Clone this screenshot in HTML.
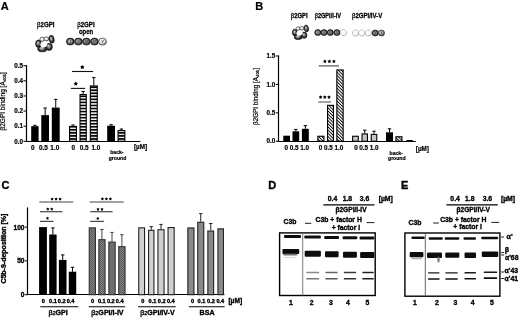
<!DOCTYPE html>
<html><head><meta charset="utf-8"><style>
html,body{margin:0;padding:0;background:#fff;width:520px;height:318px;overflow:hidden;}
svg{display:block;filter:blur(0.3px);font-family:"Liberation Sans",sans-serif;}
text{stroke:#000;stroke-width:0.35px;}
.lt text,text.lt{stroke-width:0.2px;}
</style></head><body>
<svg width="520" height="318" viewBox="0 0 520 318" font-family='"Liberation Sans", sans-serif'>
<defs>
<pattern id="hstripe" patternUnits="userSpaceOnUse" x="0" y="-1.33" width="4" height="3.05">
 <rect width="4" height="3.05" fill="#000"/><rect y="0.9" width="4" height="1.35" fill="#fff"/>
</pattern>
<pattern id="dhatch" patternUnits="userSpaceOnUse" width="2.25" height="3" patternTransform="rotate(-45)">
 <rect width="2.25" height="3" fill="#fff"/><rect width="0.9" height="3" fill="#000"/>
</pattern>
<pattern id="checker" patternUnits="userSpaceOnUse" width="2" height="2">
 <rect width="2" height="2" fill="#808080"/><rect width="1" height="1" fill="#5e5e5e"/><rect x="1" y="1" width="1" height="1" fill="#5e5e5e"/>
</pattern>
<radialGradient id="gdark" cx="0.5" cy="0.5" r="0.5" fx="0.42" fy="0.4">
 <stop offset="0" stop-color="#d0d0d0"/><stop offset="0.5" stop-color="#8a8a8a"/><stop offset="0.8" stop-color="#3a3a3a"/><stop offset="1" stop-color="#080808"/>
</radialGradient>
<radialGradient id="gring" cx="0.5" cy="0.5" r="0.5" fx="0.4" fy="0.35">
 <stop offset="0" stop-color="#d8d8d8"/><stop offset="0.4" stop-color="#858585"/><stop offset="0.75" stop-color="#303030"/><stop offset="1" stop-color="#050505"/>
</radialGradient>
<radialGradient id="glight" cx="0.4" cy="0.35" r="0.7">
 <stop offset="0" stop-color="#fff"/><stop offset="0.6" stop-color="#ddd"/><stop offset="1" stop-color="#666"/>
</radialGradient>
<radialGradient id="gwhite" cx="0.45" cy="0.4" r="0.65">
 <stop offset="0" stop-color="#fff"/><stop offset="0.75" stop-color="#fafafa"/><stop offset="1" stop-color="#999"/>
</radialGradient>
<radialGradient id="gmid" cx="0.4" cy="0.35" r="0.7">
 <stop offset="0" stop-color="#eee"/><stop offset="0.5" stop-color="#999"/><stop offset="1" stop-color="#333"/>
</radialGradient>
<filter id="blur" x="-20%" y="-50%" width="140%" height="200%"><feGaussianBlur stdDeviation="0.45"/></filter>
<filter id="blur2" x="-20%" y="-50%" width="140%" height="200%"><feGaussianBlur stdDeviation="0.7"/></filter>
</defs>
<g class="lt">
<text x="0.80" y="10.20" font-size="11" text-anchor="start" font-weight="bold" fill="#000" >A</text>
<text transform="translate(45.70,26.80) scale(0.88,1)" font-size="7.0" text-anchor="middle" font-weight="bold" fill="#000" style="stroke-width:0.28px"><tspan font-weight="normal">β</tspan>2GPI</text>
<text transform="translate(85.90,26.80) scale(0.88,1)" font-size="7.0" text-anchor="middle" font-weight="bold" fill="#000" style="stroke-width:0.28px"><tspan font-weight="normal">β</tspan>2GPI</text>
<text transform="translate(86.00,33.80) scale(0.85,1)" font-size="7.0" text-anchor="middle" font-weight="bold" fill="#000" style="stroke-width:0.28px">open</text>
<g transform="translate(44.6,43.8) scale(1.06)"><ellipse cx="6.6" cy="-4.3" rx="2.4" ry="3.7" fill="url(#gring)" stroke="#111" stroke-width="0.55" transform="rotate(-12 6.6 -4.3)"/><ellipse cx="-2.3" cy="-4.2" rx="2.2" ry="2.0" fill="url(#glight)" stroke="#222" stroke-width="0.6"/><ellipse cx="1.7" cy="-4.6" rx="2.2" ry="2.0" fill="url(#glight)" stroke="#222" stroke-width="0.6"/><ellipse cx="-2.2" cy="4.8" rx="4.3" ry="2.8" fill="url(#gring)" stroke="#111" stroke-width="0.55"/><ellipse cx="4.3" cy="2.9" rx="3.0" ry="3.4" fill="url(#gring)" stroke="#111" stroke-width="0.55"/><ellipse cx="-5.9" cy="-0.1" rx="2.6" ry="3.5" fill="url(#gring)" stroke="#111" stroke-width="0.55"/><ellipse cx="-0.7" cy="0.6" rx="3.4" ry="2.7" fill="#fff" transform="rotate(-20 -0.7 0.6)"/></g>
<ellipse cx="70.30" cy="41.60" rx="3.9" ry="3.5" fill="url(#gdark)" stroke="#111" stroke-width="0.6"/>
<text x="70.30" y="42.75" font-size="3.2" text-anchor="middle" font-weight="bold" fill="#222" style="stroke:none">I</text>
<ellipse cx="78.40" cy="41.60" rx="3.9" ry="3.5" fill="url(#gdark)" stroke="#111" stroke-width="0.6"/>
<text x="78.40" y="42.75" font-size="3.2" text-anchor="middle" font-weight="bold" fill="#222" style="stroke:none">II</text>
<ellipse cx="86.40" cy="41.60" rx="3.9" ry="3.5" fill="url(#gdark)" stroke="#111" stroke-width="0.6"/>
<text x="86.40" y="42.75" font-size="3.2" text-anchor="middle" font-weight="bold" fill="#222" style="stroke:none">III</text>
<ellipse cx="94.50" cy="41.60" rx="3.9" ry="3.5" fill="url(#gdark)" stroke="#111" stroke-width="0.6"/>
<text x="94.50" y="42.75" font-size="3.2" text-anchor="middle" font-weight="bold" fill="#222" style="stroke:none">IV</text>
<ellipse cx="102.50" cy="41.60" rx="3.9" ry="3.5" fill="url(#glight)" stroke="#111" stroke-width="0.6"/>
<text x="102.50" y="42.75" font-size="3.2" text-anchor="middle" font-weight="bold" fill="#222" style="stroke:none">V</text>
<line x1="26.50" y1="65.20" x2="26.50" y2="142.00" stroke="#000" stroke-width="1.2" />
<line x1="25.90" y1="141.50" x2="140.40" y2="141.50" stroke="#000" stroke-width="1.2" />
<line x1="23.40" y1="65.70" x2="26.50" y2="65.70" stroke="#000" stroke-width="1.0" />
<text x="22.90" y="67.95" font-size="6.3" text-anchor="end" font-weight="bold" fill="#000" >0.5</text>
<line x1="23.40" y1="80.82" x2="26.50" y2="80.82" stroke="#000" stroke-width="1.0" />
<text x="22.90" y="83.07" font-size="6.3" text-anchor="end" font-weight="bold" fill="#000" >0.4</text>
<line x1="23.40" y1="95.94" x2="26.50" y2="95.94" stroke="#000" stroke-width="1.0" />
<text x="22.90" y="98.19" font-size="6.3" text-anchor="end" font-weight="bold" fill="#000" >0.3</text>
<line x1="23.40" y1="111.06" x2="26.50" y2="111.06" stroke="#000" stroke-width="1.0" />
<text x="22.90" y="113.31" font-size="6.3" text-anchor="end" font-weight="bold" fill="#000" >0.2</text>
<line x1="23.40" y1="126.18" x2="26.50" y2="126.18" stroke="#000" stroke-width="1.0" />
<text x="22.90" y="128.43" font-size="6.3" text-anchor="end" font-weight="bold" fill="#000" >0.1</text>
<line x1="23.40" y1="141.30" x2="26.50" y2="141.30" stroke="#000" stroke-width="1.0" />
<text x="22.90" y="143.55" font-size="6.3" text-anchor="end" font-weight="bold" fill="#000" >0.0</text>
<line x1="34.90" y1="126.18" x2="34.90" y2="125.28" stroke="#000" stroke-width="1.0" />
<line x1="33.20" y1="125.28" x2="36.60" y2="125.28" stroke="#000" stroke-width="1.0" />
<rect x="31.20" y="126.18" width="7.40" height="15.12" fill="#000" stroke="none" stroke-width="0" />
<line x1="45.15" y1="115.10" x2="45.15" y2="108.00" stroke="#000" stroke-width="1.0" />
<line x1="43.45" y1="108.00" x2="46.85" y2="108.00" stroke="#000" stroke-width="1.0" />
<rect x="41.30" y="115.10" width="7.70" height="26.20" fill="#000" stroke="none" stroke-width="0" />
<line x1="55.75" y1="107.60" x2="55.75" y2="99.40" stroke="#000" stroke-width="1.0" />
<line x1="54.05" y1="99.40" x2="57.45" y2="99.40" stroke="#000" stroke-width="1.0" />
<rect x="51.80" y="107.60" width="7.90" height="33.70" fill="#000" stroke="none" stroke-width="0" />
<line x1="73.00" y1="125.90" x2="73.00" y2="125.00" stroke="#000" stroke-width="1.0" />
<line x1="71.30" y1="125.00" x2="74.70" y2="125.00" stroke="#000" stroke-width="1.0" />
<rect x="69.55" y="126.45" width="6.90" height="14.85" fill="url(#hstripe)" stroke="#000" stroke-width="1.1" />
<line x1="83.15" y1="94.00" x2="83.15" y2="91.40" stroke="#000" stroke-width="1.0" />
<line x1="81.45" y1="91.40" x2="84.85" y2="91.40" stroke="#000" stroke-width="1.0" />
<rect x="80.05" y="94.55" width="6.20" height="46.75" fill="url(#hstripe)" stroke="#000" stroke-width="1.1" />
<line x1="93.80" y1="85.40" x2="93.80" y2="77.60" stroke="#000" stroke-width="1.0" />
<line x1="92.10" y1="77.60" x2="95.50" y2="77.60" stroke="#000" stroke-width="1.0" />
<rect x="90.35" y="85.95" width="6.90" height="55.35" fill="url(#hstripe)" stroke="#000" stroke-width="1.1" />
<line x1="111.10" y1="125.70" x2="111.10" y2="124.70" stroke="#000" stroke-width="1.0" />
<line x1="109.40" y1="124.70" x2="112.80" y2="124.70" stroke="#000" stroke-width="1.0" />
<rect x="107.20" y="125.70" width="7.80" height="15.60" fill="#000" stroke="none" stroke-width="0" />
<line x1="121.45" y1="130.00" x2="121.45" y2="129.00" stroke="#000" stroke-width="1.0" />
<line x1="119.75" y1="129.00" x2="123.15" y2="129.00" stroke="#000" stroke-width="1.0" />
<rect x="118.05" y="130.55" width="6.80" height="10.75" fill="url(#hstripe)" stroke="#000" stroke-width="1.1" />
<line x1="71.90" y1="71.50" x2="93.10" y2="71.50" stroke="#111" stroke-width="1.1" />
<polygon points="82.30,64.90 83.08,66.03 84.39,66.42 83.56,67.51 83.59,68.88 82.30,68.42 81.01,68.88 81.04,67.51 80.21,66.42 81.52,66.03" fill="#000"/>
<line x1="70.90" y1="88.40" x2="85.10" y2="88.40" stroke="#111" stroke-width="1.1" />
<polygon points="75.80,81.50 76.58,82.63 77.89,83.02 77.06,84.11 77.09,85.48 75.80,85.02 74.51,85.48 74.54,84.11 73.71,83.02 75.02,82.63" fill="#000"/>
<text x="32.80" y="149.70" font-size="6.4" text-anchor="middle" font-weight="bold" fill="#000" >0</text>
<text x="43.35" y="149.70" font-size="6.4" text-anchor="middle" font-weight="bold" fill="#000" >0.5</text>
<text x="54.80" y="149.70" font-size="6.4" text-anchor="middle" font-weight="bold" fill="#000" >1.0</text>
<text x="73.35" y="149.70" font-size="6.4" text-anchor="middle" font-weight="bold" fill="#000" >0</text>
<text x="84.15" y="149.70" font-size="6.4" text-anchor="middle" font-weight="bold" fill="#000" >0.5</text>
<text x="95.90" y="149.70" font-size="6.4" text-anchor="middle" font-weight="bold" fill="#000" >1.0</text>
<text x="134.00" y="148.90" font-size="6.3" text-anchor="start" font-weight="bold" fill="#000" >[µM]</text>
<text x="116.90" y="154.30" font-size="5.1" text-anchor="middle" font-weight="bold" fill="#000" >back-</text>
<text x="117.50" y="159.50" font-size="5.1" text-anchor="middle" font-weight="bold" fill="#000" >ground</text>
<text transform="translate(5.2,101.4) rotate(-90)" font-size="6.5" font-weight="normal" text-anchor="middle">β2GPI binding [A<tspan font-size="4.3" dy="1">405</tspan><tspan dy="-1">]</tspan></text>
<text x="255.30" y="10.40" font-size="11" text-anchor="start" font-weight="bold" fill="#000" >B</text>
<text transform="translate(299.20,17.70) scale(0.88,1)" font-size="6.7" text-anchor="middle" font-weight="bold" fill="#000" style="stroke-width:0.28px"><tspan font-weight="normal">β</tspan>2GPI</text>
<text transform="translate(327.80,17.70) scale(0.84,1)" font-size="6.7" text-anchor="middle" font-weight="bold" fill="#000" style="stroke-width:0.28px"><tspan font-weight="normal">β</tspan>2GPI/I-IV</text>
<text transform="translate(367.10,17.70) scale(0.9,1)" font-size="6.7" text-anchor="middle" font-weight="bold" fill="#000" style="stroke-width:0.28px"><tspan font-weight="normal">β</tspan>2GPI/IV-V</text>
<g transform="translate(300.2,32.5) scale(0.93)"><ellipse cx="6.6" cy="-4.3" rx="2.4" ry="3.7" fill="url(#gring)" stroke="#111" stroke-width="0.55" transform="rotate(-12 6.6 -4.3)"/><ellipse cx="-2.3" cy="-4.2" rx="2.2" ry="2.0" fill="url(#glight)" stroke="#222" stroke-width="0.6"/><ellipse cx="1.7" cy="-4.6" rx="2.2" ry="2.0" fill="url(#glight)" stroke="#222" stroke-width="0.6"/><ellipse cx="-2.2" cy="4.8" rx="4.3" ry="2.8" fill="url(#gring)" stroke="#111" stroke-width="0.55"/><ellipse cx="4.3" cy="2.9" rx="3.0" ry="3.4" fill="url(#gring)" stroke="#111" stroke-width="0.55"/><ellipse cx="-5.9" cy="-0.1" rx="2.6" ry="3.5" fill="url(#gring)" stroke="#111" stroke-width="0.55"/><ellipse cx="-0.7" cy="0.6" rx="3.4" ry="2.7" fill="#fff" transform="rotate(-20 -0.7 0.6)"/></g>
<ellipse cx="317.80" cy="32.60" rx="3.1" ry="3.0" fill="url(#gdark)" stroke="#111" stroke-width="0.6"/>
<text x="317.80" y="33.54" font-size="2.6" text-anchor="middle" font-weight="bold" fill="#222" style="stroke:none">I</text>
<ellipse cx="324.00" cy="32.60" rx="3.1" ry="3.0" fill="url(#gdark)" stroke="#111" stroke-width="0.6"/>
<text x="324.00" y="33.54" font-size="2.6" text-anchor="middle" font-weight="bold" fill="#222" style="stroke:none">II</text>
<ellipse cx="330.30" cy="32.60" rx="3.1" ry="3.0" fill="url(#gdark)" stroke="#111" stroke-width="0.6"/>
<text x="330.30" y="33.54" font-size="2.6" text-anchor="middle" font-weight="bold" fill="#222" style="stroke:none">III</text>
<ellipse cx="336.90" cy="32.60" rx="3.1" ry="3.0" fill="url(#gdark)" stroke="#111" stroke-width="0.6"/>
<text x="336.90" y="33.54" font-size="2.6" text-anchor="middle" font-weight="bold" fill="#222" style="stroke:none">IV</text>
<ellipse cx="343.40" cy="32.60" rx="3.1" ry="3.0" fill="url(#gwhite)" stroke="#777" stroke-width="0.6" stroke-dasharray="0.9 0.45"/>
<text x="343.40" y="33.54" font-size="2.6" text-anchor="middle" font-weight="bold" fill="#222" style="stroke:none"></text>
<ellipse cx="355.60" cy="33.00" rx="3.1" ry="3.0" fill="url(#gwhite)" stroke="#777" stroke-width="0.6" stroke-dasharray="0.9 0.45"/>
<text x="355.60" y="33.94" font-size="2.6" text-anchor="middle" font-weight="bold" fill="#222" style="stroke:none"></text>
<ellipse cx="361.70" cy="33.00" rx="3.1" ry="3.0" fill="url(#gwhite)" stroke="#777" stroke-width="0.6" stroke-dasharray="0.9 0.45"/>
<text x="361.70" y="33.94" font-size="2.6" text-anchor="middle" font-weight="bold" fill="#222" style="stroke:none"></text>
<ellipse cx="368.30" cy="33.00" rx="3.1" ry="3.0" fill="url(#gwhite)" stroke="#777" stroke-width="0.6" stroke-dasharray="0.9 0.45"/>
<text x="368.30" y="33.94" font-size="2.6" text-anchor="middle" font-weight="bold" fill="#222" style="stroke:none"></text>
<ellipse cx="375.20" cy="33.00" rx="3.1" ry="3.0" fill="url(#gdark)" stroke="#111" stroke-width="0.6"/>
<text x="375.20" y="33.94" font-size="2.6" text-anchor="middle" font-weight="bold" fill="#222" style="stroke:none">IV</text>
<ellipse cx="381.40" cy="33.00" rx="3.1" ry="3.0" fill="url(#gmid)" stroke="#111" stroke-width="0.6"/>
<text x="381.40" y="33.94" font-size="2.6" text-anchor="middle" font-weight="bold" fill="#222" style="stroke:none">V</text>
<line x1="278.50" y1="55.40" x2="278.50" y2="142.00" stroke="#000" stroke-width="1.2" />
<line x1="277.90" y1="141.50" x2="415.80" y2="141.50" stroke="#000" stroke-width="1.2" />
<line x1="275.80" y1="56.00" x2="278.50" y2="56.00" stroke="#000" stroke-width="1.0" />
<text x="275.30" y="58.25" font-size="6.3" text-anchor="end" font-weight="bold" fill="#000" >1.5</text>
<line x1="275.80" y1="84.40" x2="278.50" y2="84.40" stroke="#000" stroke-width="1.0" />
<text x="275.30" y="86.65" font-size="6.3" text-anchor="end" font-weight="bold" fill="#000" >1.0</text>
<line x1="275.80" y1="112.80" x2="278.50" y2="112.80" stroke="#000" stroke-width="1.0" />
<text x="275.30" y="115.05" font-size="6.3" text-anchor="end" font-weight="bold" fill="#000" >0.5</text>
<line x1="275.80" y1="141.20" x2="278.50" y2="141.20" stroke="#000" stroke-width="1.0" />
<text x="275.30" y="143.45" font-size="6.3" text-anchor="end" font-weight="bold" fill="#000" >0.0</text>
<rect x="283.30" y="135.70" width="6.70" height="5.50" fill="#000" stroke="none" stroke-width="0" />
<line x1="295.85" y1="131.30" x2="295.85" y2="129.40" stroke="#000" stroke-width="1.0" />
<line x1="294.15" y1="129.40" x2="297.55" y2="129.40" stroke="#000" stroke-width="1.0" />
<rect x="292.50" y="131.30" width="6.70" height="9.90" fill="#000" stroke="none" stroke-width="0" />
<line x1="305.35" y1="128.80" x2="305.35" y2="125.60" stroke="#000" stroke-width="1.0" />
<line x1="303.65" y1="125.60" x2="307.05" y2="125.60" stroke="#000" stroke-width="1.0" />
<rect x="301.90" y="128.80" width="6.90" height="12.40" fill="#000" stroke="none" stroke-width="0" />
<rect x="317.85" y="136.25" width="6.10" height="4.95" fill="url(#dhatch)" stroke="#000" stroke-width="1.1" />
<rect x="327.55" y="105.35" width="5.90" height="35.85" fill="url(#dhatch)" stroke="#000" stroke-width="1.1" />
<rect x="336.85" y="69.95" width="6.30" height="71.25" fill="url(#dhatch)" stroke="#000" stroke-width="1.1" />
<rect x="352.65" y="136.25" width="5.60" height="4.95" fill="#c8c8c8" stroke="#000" stroke-width="1.1" />
<line x1="364.75" y1="133.40" x2="364.75" y2="130.20" stroke="#000" stroke-width="1.0" />
<line x1="363.05" y1="130.20" x2="366.45" y2="130.20" stroke="#000" stroke-width="1.0" />
<rect x="362.05" y="133.95" width="5.40" height="7.25" fill="#c8c8c8" stroke="#000" stroke-width="1.1" />
<line x1="374.00" y1="133.90" x2="374.00" y2="131.20" stroke="#000" stroke-width="1.0" />
<line x1="372.30" y1="131.20" x2="375.70" y2="131.20" stroke="#000" stroke-width="1.0" />
<rect x="371.25" y="134.45" width="5.50" height="6.75" fill="#c8c8c8" stroke="#000" stroke-width="1.1" />
<line x1="389.50" y1="132.30" x2="389.50" y2="128.80" stroke="#000" stroke-width="1.0" />
<line x1="387.80" y1="128.80" x2="391.20" y2="128.80" stroke="#000" stroke-width="1.0" />
<rect x="386.00" y="132.30" width="7.00" height="8.90" fill="#000" stroke="none" stroke-width="0" />
<rect x="395.95" y="136.75" width="6.00" height="4.45" fill="url(#dhatch)" stroke="#000" stroke-width="1.1" />
<rect x="406.95" y="140.55" width="5.20" height="0.65" fill="#c8c8c8" stroke="#000" stroke-width="1.1" />
<line x1="318.60" y1="65.90" x2="339.00" y2="65.90" stroke="#444" stroke-width="1.1" />
<polygon points="324.90,59.50 325.57,60.48 326.71,60.81 325.98,61.75 326.02,62.94 324.90,62.54 323.78,62.94 323.82,61.75 323.09,60.81 324.23,60.48" fill="#000"/>
<polygon points="329.40,59.50 330.07,60.48 331.21,60.81 330.48,61.75 330.52,62.94 329.40,62.54 328.28,62.94 328.32,61.75 327.59,60.81 328.73,60.48" fill="#000"/>
<polygon points="333.90,59.50 334.57,60.48 335.71,60.81 334.98,61.75 335.02,62.94 333.90,62.54 332.78,62.94 332.82,61.75 332.09,60.81 333.23,60.48" fill="#000"/>
<line x1="318.20" y1="102.00" x2="330.80" y2="102.00" stroke="#555" stroke-width="1.1" />
<polygon points="320.60,95.20 321.27,96.18 322.41,96.51 321.68,97.45 321.72,98.64 320.60,98.24 319.48,98.64 319.52,97.45 318.79,96.51 319.93,96.18" fill="#000"/>
<polygon points="324.80,95.20 325.47,96.18 326.61,96.51 325.88,97.45 325.92,98.64 324.80,98.24 323.68,98.64 323.72,97.45 322.99,96.51 324.13,96.18" fill="#000"/>
<polygon points="329.00,95.20 329.67,96.18 330.81,96.51 330.08,97.45 330.12,98.64 329.00,98.24 327.88,98.64 327.92,97.45 327.19,96.51 328.33,96.18" fill="#000"/>
<text x="286.30" y="150.20" font-size="6.3" text-anchor="middle" font-weight="bold" fill="#000" >0</text>
<text x="294.10" y="150.20" font-size="6.3" text-anchor="middle" font-weight="bold" fill="#000" >0.5</text>
<text x="304.60" y="150.20" font-size="6.3" text-anchor="middle" font-weight="bold" fill="#000" >1.0</text>
<text x="320.50" y="150.20" font-size="6.3" text-anchor="middle" font-weight="bold" fill="#000" >0</text>
<text x="328.50" y="150.20" font-size="6.3" text-anchor="middle" font-weight="bold" fill="#000" >0.5</text>
<text x="338.90" y="150.20" font-size="6.3" text-anchor="middle" font-weight="bold" fill="#000" >1.0</text>
<text x="355.90" y="150.20" font-size="6.3" text-anchor="middle" font-weight="bold" fill="#000" >0</text>
<text x="363.70" y="150.20" font-size="6.3" text-anchor="middle" font-weight="bold" fill="#000" >0.5</text>
<text x="374.20" y="150.20" font-size="6.3" text-anchor="middle" font-weight="bold" fill="#000" >1.0</text>
<text x="415.80" y="150.60" font-size="6.3" text-anchor="start" font-weight="bold" fill="#000" >[µM]</text>
<text x="396.20" y="154.50" font-size="5.1" text-anchor="middle" font-weight="bold" fill="#000" >back-</text>
<text x="396.80" y="160.00" font-size="5.1" text-anchor="middle" font-weight="bold" fill="#000" >ground</text>
<text transform="translate(258.2,96.5) rotate(-90)" font-size="6.35" font-weight="normal" text-anchor="middle">β2GPI binding [A<tspan font-size="4.3" dy="1">405</tspan><tspan dy="-1">]</tspan></text>
</g>
<text x="1.40" y="188.90" font-size="11" text-anchor="start" font-weight="bold" fill="#000" >C</text>
<line x1="27.50" y1="207.40" x2="27.50" y2="295.10" stroke="#000" stroke-width="1.2" />
<line x1="26.90" y1="294.50" x2="224.40" y2="294.50" stroke="#000" stroke-width="1.2" />
<line x1="24.80" y1="227.10" x2="27.50" y2="227.10" stroke="#000" stroke-width="1.0" />
<text x="24.50" y="229.50" font-size="6.6" text-anchor="end" font-weight="bold" fill="#000" >100</text>
<line x1="24.80" y1="260.90" x2="27.50" y2="260.90" stroke="#000" stroke-width="1.0" />
<text x="24.50" y="263.30" font-size="6.6" text-anchor="end" font-weight="bold" fill="#000" >50</text>
<line x1="24.80" y1="294.70" x2="27.50" y2="294.70" stroke="#000" stroke-width="1.0" />
<text x="24.50" y="297.10" font-size="6.6" text-anchor="end" font-weight="bold" fill="#000" >0</text>
<rect x="39.10" y="227.10" width="7.80" height="67.60" fill="#000" stroke="none" stroke-width="0" />
<line x1="52.90" y1="234.50" x2="52.90" y2="227.90" stroke="#000" stroke-width="1.0" />
<line x1="51.20" y1="227.90" x2="54.60" y2="227.90" stroke="#000" stroke-width="1.0" />
<rect x="49.20" y="234.50" width="7.40" height="60.20" fill="#000" stroke="none" stroke-width="0" />
<line x1="62.70" y1="259.90" x2="62.70" y2="254.90" stroke="#000" stroke-width="1.0" />
<line x1="61.00" y1="254.90" x2="64.40" y2="254.90" stroke="#000" stroke-width="1.0" />
<rect x="58.90" y="259.90" width="7.60" height="34.80" fill="#000" stroke="none" stroke-width="0" />
<line x1="72.50" y1="271.70" x2="72.50" y2="267.30" stroke="#000" stroke-width="1.0" />
<line x1="70.80" y1="267.30" x2="74.20" y2="267.30" stroke="#000" stroke-width="1.0" />
<rect x="68.80" y="271.70" width="7.40" height="23.00" fill="#000" stroke="none" stroke-width="0" />
<rect x="89.25" y="227.85" width="6.20" height="66.85" fill="url(#checker)" stroke="#333" stroke-width="1.1" />
<line x1="101.95" y1="239.10" x2="101.95" y2="229.40" stroke="#444" stroke-width="1.0" />
<line x1="100.25" y1="229.40" x2="103.65" y2="229.40" stroke="#444" stroke-width="1.0" />
<rect x="98.85" y="239.65" width="6.20" height="55.05" fill="url(#checker)" stroke="#333" stroke-width="1.1" />
<line x1="112.00" y1="241.50" x2="112.00" y2="232.40" stroke="#444" stroke-width="1.0" />
<line x1="110.30" y1="232.40" x2="113.70" y2="232.40" stroke="#444" stroke-width="1.0" />
<rect x="108.85" y="242.05" width="6.30" height="52.65" fill="url(#checker)" stroke="#333" stroke-width="1.1" />
<line x1="121.90" y1="246.10" x2="121.90" y2="234.70" stroke="#444" stroke-width="1.0" />
<line x1="120.20" y1="234.70" x2="123.60" y2="234.70" stroke="#444" stroke-width="1.0" />
<rect x="118.75" y="246.65" width="6.30" height="48.05" fill="url(#checker)" stroke="#333" stroke-width="1.1" />
<rect x="138.75" y="227.85" width="5.80" height="66.85" fill="#d0d0d0" stroke="#222" stroke-width="1.1" />
<line x1="151.25" y1="229.80" x2="151.25" y2="226.60" stroke="#222" stroke-width="1.0" />
<line x1="149.55" y1="226.60" x2="152.95" y2="226.60" stroke="#222" stroke-width="1.0" />
<rect x="148.55" y="230.35" width="5.40" height="64.35" fill="#d0d0d0" stroke="#222" stroke-width="1.1" />
<line x1="161.00" y1="229.20" x2="161.00" y2="224.40" stroke="#222" stroke-width="1.0" />
<line x1="159.30" y1="224.40" x2="162.70" y2="224.40" stroke="#222" stroke-width="1.0" />
<rect x="157.95" y="229.75" width="6.10" height="64.95" fill="#d0d0d0" stroke="#222" stroke-width="1.1" />
<rect x="168.05" y="227.55" width="6.10" height="67.15" fill="#d0d0d0" stroke="#222" stroke-width="1.1" />
<rect x="187.85" y="227.95" width="6.10" height="66.75" fill="#8a8a8a" stroke="#222" stroke-width="1.1" />
<line x1="200.75" y1="221.70" x2="200.75" y2="213.60" stroke="#222" stroke-width="1.0" />
<line x1="199.05" y1="213.60" x2="202.45" y2="213.60" stroke="#222" stroke-width="1.0" />
<rect x="197.75" y="222.25" width="6.00" height="72.45" fill="#8a8a8a" stroke="#222" stroke-width="1.1" />
<line x1="210.75" y1="230.50" x2="210.75" y2="223.50" stroke="#222" stroke-width="1.0" />
<line x1="209.05" y1="223.50" x2="212.45" y2="223.50" stroke="#222" stroke-width="1.0" />
<rect x="207.85" y="231.05" width="5.80" height="63.65" fill="#8a8a8a" stroke="#222" stroke-width="1.1" />
<rect x="217.95" y="228.85" width="5.50" height="65.85" fill="#8a8a8a" stroke="#222" stroke-width="1.1" />
<line x1="39.30" y1="202.00" x2="73.30" y2="202.00" stroke="#444" stroke-width="1.2" />
<polygon points="52.10,197.45 52.68,198.30 53.67,198.59 53.04,199.41 53.07,200.43 52.10,200.09 51.13,200.43 51.16,199.41 50.53,198.59 51.52,198.30" fill="#000"/>
<polygon points="56.10,197.45 56.68,198.30 57.67,198.59 57.04,199.41 57.07,200.43 56.10,200.09 55.13,200.43 55.16,199.41 54.53,198.59 55.52,198.30" fill="#000"/>
<polygon points="60.10,197.45 60.68,198.30 61.67,198.59 61.04,199.41 61.07,200.43 60.10,200.09 59.13,200.43 59.16,199.41 58.53,198.59 59.52,198.30" fill="#000"/>
<line x1="39.90" y1="211.70" x2="62.40" y2="211.70" stroke="#444" stroke-width="1.2" />
<polygon points="47.80,207.45 48.38,208.30 49.37,208.59 48.74,209.41 48.77,210.43 47.80,210.09 46.83,210.43 46.86,209.41 46.23,208.59 47.22,208.30" fill="#000"/>
<polygon points="51.80,207.45 52.38,208.30 53.37,208.59 52.74,209.41 52.77,210.43 51.80,210.09 50.83,210.43 50.86,209.41 50.23,208.59 51.22,208.30" fill="#000"/>
<line x1="39.90" y1="221.40" x2="53.50" y2="221.40" stroke="#444" stroke-width="1.2" />
<polygon points="47.50,216.65 48.08,217.50 49.07,217.79 48.44,218.61 48.47,219.63 47.50,219.29 46.53,219.63 46.56,218.61 45.93,217.79 46.92,217.50" fill="#000"/>
<line x1="89.60" y1="202.00" x2="123.70" y2="202.00" stroke="#444" stroke-width="1.2" />
<polygon points="102.40,197.25 102.98,198.10 103.97,198.39 103.34,199.21 103.37,200.23 102.40,199.89 101.43,200.23 101.46,199.21 100.83,198.39 101.82,198.10" fill="#000"/>
<polygon points="106.40,197.25 106.98,198.10 107.97,198.39 107.34,199.21 107.37,200.23 106.40,199.89 105.43,200.23 105.46,199.21 104.83,198.39 105.82,198.10" fill="#000"/>
<polygon points="110.40,197.25 110.98,198.10 111.97,198.39 111.34,199.21 111.37,200.23 110.40,199.89 109.43,200.23 109.46,199.21 108.83,198.39 109.82,198.10" fill="#000"/>
<line x1="90.20" y1="211.70" x2="112.60" y2="211.70" stroke="#444" stroke-width="1.2" />
<polygon points="98.00,207.65 98.58,208.50 99.57,208.79 98.94,209.61 98.97,210.63 98.00,210.29 97.03,210.63 97.06,209.61 96.43,208.79 97.42,208.50" fill="#000"/>
<polygon points="102.00,207.65 102.58,208.50 103.57,208.79 102.94,209.61 102.97,210.63 102.00,210.29 101.03,210.63 101.06,209.61 100.43,208.79 101.42,208.50" fill="#000"/>
<line x1="90.20" y1="221.40" x2="103.90" y2="221.40" stroke="#444" stroke-width="1.2" />
<polygon points="97.80,216.85 98.38,217.70 99.37,217.99 98.74,218.81 98.77,219.83 97.80,219.49 96.83,219.83 96.86,218.81 96.23,217.99 97.22,217.70" fill="#000"/>
<text x="43.20" y="303.20" font-size="5.6" text-anchor="middle" font-weight="bold" fill="#000" >0</text>
<text x="53.00" y="303.20" font-size="5.6" text-anchor="middle" font-weight="bold" fill="#000" >0.1</text>
<text x="61.70" y="303.20" font-size="5.6" text-anchor="middle" font-weight="bold" fill="#000" >0.2</text>
<text x="70.60" y="303.20" font-size="5.6" text-anchor="middle" font-weight="bold" fill="#000" >0.4</text>
<text x="92.50" y="303.20" font-size="5.6" text-anchor="middle" font-weight="bold" fill="#000" >0</text>
<text x="101.80" y="303.20" font-size="5.6" text-anchor="middle" font-weight="bold" fill="#000" >0.1</text>
<text x="110.80" y="303.20" font-size="5.6" text-anchor="middle" font-weight="bold" fill="#000" >0.2</text>
<text x="119.70" y="303.20" font-size="5.6" text-anchor="middle" font-weight="bold" fill="#000" >0.4</text>
<text x="142.90" y="303.20" font-size="5.6" text-anchor="middle" font-weight="bold" fill="#000" >0</text>
<text x="152.50" y="303.20" font-size="5.6" text-anchor="middle" font-weight="bold" fill="#000" >0.1</text>
<text x="161.70" y="303.20" font-size="5.6" text-anchor="middle" font-weight="bold" fill="#000" >0.2</text>
<text x="170.80" y="303.20" font-size="5.6" text-anchor="middle" font-weight="bold" fill="#000" >0.4</text>
<text x="192.60" y="303.20" font-size="5.6" text-anchor="middle" font-weight="bold" fill="#000" >0</text>
<text x="201.50" y="303.20" font-size="5.6" text-anchor="middle" font-weight="bold" fill="#000" >0.1</text>
<text x="211.00" y="303.20" font-size="5.6" text-anchor="middle" font-weight="bold" fill="#000" >0.2</text>
<text x="220.30" y="303.20" font-size="5.6" text-anchor="middle" font-weight="bold" fill="#000" >0.4</text>
<text x="228.40" y="303.40" font-size="6.6" text-anchor="start" font-weight="bold" fill="#000" >[µM]</text>
<line x1="40.30" y1="306.80" x2="78.30" y2="306.80" stroke="#000" stroke-width="1.1" />
<line x1="88.70" y1="306.80" x2="125.20" y2="306.80" stroke="#000" stroke-width="1.1" />
<line x1="138.10" y1="306.80" x2="175.70" y2="306.80" stroke="#000" stroke-width="1.1" />
<line x1="188.90" y1="306.80" x2="224.70" y2="306.80" stroke="#000" stroke-width="1.1" />
<text x="58.10" y="314.90" font-size="7.1" text-anchor="middle" font-weight="bold" fill="#000" ><tspan font-weight="normal">β</tspan><tspan font-weight="normal" font-size="5.5">2</tspan>GPI</text>
<text x="107.40" y="314.90" font-size="7.1" text-anchor="middle" font-weight="bold" fill="#000" ><tspan font-weight="normal">β</tspan><tspan font-weight="normal" font-size="5.5">2</tspan>GPI/I-IV</text>
<text x="157.40" y="314.90" font-size="7.0" text-anchor="middle" font-weight="bold" fill="#000" ><tspan font-weight="normal">β</tspan><tspan font-weight="normal" font-size="5.5">2</tspan>GPI/IV-V</text>
<text x="207.10" y="314.90" font-size="7.1" text-anchor="middle" font-weight="bold" fill="#000" >BSA</text>
<text transform="translate(6.1,248.6) rotate(-90)" font-size="7" font-weight="bold" text-anchor="middle">C5b-9-deposition [%]</text>
<text x="268.30" y="188.80" font-size="11" text-anchor="start" font-weight="bold" fill="#000" >D</text>
<text x="290.00" y="224.40" font-size="6.8" text-anchor="middle" font-weight="bold" fill="#000" >C3b</text>
<line x1="305.00" y1="223.30" x2="311.30" y2="223.30" stroke="#000" stroke-width="0.9" />
<text x="332.50" y="201.20" font-size="6.8" text-anchor="middle" font-weight="bold" fill="#000" >0.4</text>
<text x="347.40" y="201.20" font-size="6.8" text-anchor="middle" font-weight="bold" fill="#000" >1.8</text>
<text x="364.50" y="201.20" font-size="6.8" text-anchor="middle" font-weight="bold" fill="#000" >3.6</text>
<text x="378.70" y="201.20" font-size="6.8" text-anchor="start" font-weight="bold" fill="#000" >[µM]</text>
<line x1="323.40" y1="204.90" x2="374.40" y2="204.90" stroke="#000" stroke-width="1.1" />
<text x="351.00" y="212.40" font-size="6.6" text-anchor="middle" font-weight="bold" fill="#000" >β2GPI/I-IV</text>
<text x="338.70" y="222.00" font-size="6.8" text-anchor="middle" font-weight="bold" fill="#000" >C3b + factor H</text>
<line x1="366.60" y1="222.60" x2="374.40" y2="222.60" stroke="#000" stroke-width="0.9" />
<text x="345.90" y="229.80" font-size="6.8" text-anchor="middle" font-weight="bold" fill="#000" >+ factor I</text>
<rect x="279.60" y="232.90" width="95.60" height="62.60" fill="none" stroke="#000" stroke-width="1.4" />
<line x1="302.70" y1="233.50" x2="302.70" y2="295.20" stroke="#888" stroke-width="1.1" />
<g filter="url(#blur)">
<rect x="284.00" y="235.00" width="17.00" height="3.00" rx="1.0" fill="#111"/>
<rect x="304.30" y="235.40" width="16.60" height="3.00" rx="1.0" fill="#111"/>
<rect x="324.20" y="235.90" width="14.80" height="3.00" rx="1.0" fill="#111"/>
<rect x="342.60" y="236.20" width="14.70" height="3.00" rx="1.0" fill="#111"/>
<rect x="359.50" y="236.50" width="14.70" height="3.00" rx="1.0" fill="#111"/>
<rect x="282.40" y="248.90" width="16.80" height="5.20" rx="1.0" fill="#111"/>
<rect x="283.00" y="253.80" width="14.50" height="1.60" rx="1.0" fill="#777"/>
<rect x="283.50" y="257.15" width="13.00" height="0.90" rx="1.0" fill="#ccc"/>
<rect x="304.70" y="250.70" width="16.20" height="6.00" rx="1.0" fill="#111"/>
<rect x="325.00" y="251.30" width="13.60" height="6.00" rx="1.0" fill="#111"/>
<rect x="343.00" y="251.80" width="13.90" height="6.00" rx="1.0" fill="#111"/>
<rect x="360.10" y="252.00" width="14.20" height="6.00" rx="1.0" fill="#111"/>
<rect x="306.20" y="271.80" width="13.00" height="1.40" rx="0.6" fill="#8a8a8a"/>
<rect x="306.20" y="278.00" width="13.00" height="1.60" rx="0.6" fill="#777"/>
<rect x="325.40" y="271.80" width="12.30" height="1.40" rx="0.6" fill="#666"/>
<rect x="325.40" y="278.00" width="12.30" height="1.60" rx="0.6" fill="#555"/>
<rect x="343.80" y="271.80" width="12.40" height="1.40" rx="0.6" fill="#3a3a3a"/>
<rect x="343.80" y="278.00" width="12.40" height="1.60" rx="0.6" fill="#333"/>
<rect x="362.30" y="271.80" width="11.50" height="1.40" rx="0.6" fill="#222"/>
<rect x="362.30" y="278.00" width="11.50" height="1.60" rx="0.6" fill="#222"/>
</g>
<text x="290.80" y="304.80" font-size="6.8" text-anchor="middle" font-weight="bold" fill="#000" >1</text>
<text x="311.70" y="304.80" font-size="6.8" text-anchor="middle" font-weight="bold" fill="#000" >2</text>
<text x="331.00" y="304.80" font-size="6.8" text-anchor="middle" font-weight="bold" fill="#000" >3</text>
<text x="348.00" y="304.80" font-size="6.8" text-anchor="middle" font-weight="bold" fill="#000" >4</text>
<text x="367.50" y="304.80" font-size="6.8" text-anchor="middle" font-weight="bold" fill="#000" >5</text>
<text x="400.90" y="188.60" font-size="11" text-anchor="start" font-weight="bold" fill="#000" >E</text>
<text x="414.90" y="224.60" font-size="6.8" text-anchor="middle" font-weight="bold" fill="#000" >C3b</text>
<line x1="433.10" y1="223.00" x2="438.80" y2="223.00" stroke="#000" stroke-width="0.9" />
<text x="455.10" y="200.90" font-size="6.8" text-anchor="middle" font-weight="bold" fill="#000" >0.4</text>
<text x="469.80" y="200.90" font-size="6.8" text-anchor="middle" font-weight="bold" fill="#000" >1.8</text>
<text x="487.40" y="200.90" font-size="6.8" text-anchor="middle" font-weight="bold" fill="#000" >3.6</text>
<text x="500.90" y="200.90" font-size="6.8" text-anchor="start" font-weight="bold" fill="#000" >[µM]</text>
<line x1="446.40" y1="204.90" x2="497.80" y2="204.90" stroke="#000" stroke-width="1.1" />
<text x="473.20" y="212.40" font-size="6.6" text-anchor="middle" font-weight="bold" fill="#000" >β2GPI/IV-V</text>
<text x="463.30" y="222.00" font-size="6.8" text-anchor="middle" font-weight="bold" fill="#000" >C3b + factor H</text>
<line x1="491.40" y1="222.40" x2="499.20" y2="222.40" stroke="#000" stroke-width="0.9" />
<text x="467.60" y="229.40" font-size="6.8" text-anchor="middle" font-weight="bold" fill="#000" >+ factor I</text>
<rect x="404.90" y="233.00" width="95.00" height="63.20" fill="none" stroke="#000" stroke-width="1.4" />
<line x1="425.30" y1="233.60" x2="425.30" y2="295.60" stroke="#666" stroke-width="1.0" />
<g filter="url(#blur)">
<rect x="411.40" y="236.45" width="13.30" height="2.50" rx="1.0" fill="#111"/>
<rect x="428.60" y="237.25" width="14.20" height="2.50" rx="1.0" fill="#111"/>
<rect x="444.70" y="237.25" width="14.60" height="2.50" rx="1.0" fill="#111"/>
<rect x="463.50" y="237.25" width="12.50" height="2.50" rx="1.0" fill="#111"/>
<rect x="481.20" y="236.75" width="17.00" height="2.50" rx="1.0" fill="#111"/>
<rect x="409.70" y="251.90" width="13.70" height="5.40" rx="1.0" fill="#111"/>
<rect x="427.00" y="252.50" width="15.00" height="5.40" rx="1.0" fill="#111"/>
<rect x="445.30" y="252.40" width="14.00" height="5.40" rx="1.0" fill="#111"/>
<rect x="464.50" y="252.60" width="11.50" height="5.40" rx="1.0" fill="#111"/>
<rect x="481.80" y="251.60" width="16.40" height="5.40" rx="1.0" fill="#111"/>
<rect x="411.00" y="257.40" width="11.00" height="1.80" rx="1.0" fill="#aaa"/>
<ellipse cx="438.5" cy="259.5" rx="1.2" ry="3" fill="#777"/>
<rect x="428.00" y="272.20" width="11.50" height="1.40" rx="0.6" fill="#1a1a1a"/>
<rect x="428.00" y="278.20" width="11.50" height="1.60" rx="0.6" fill="#111"/>
<rect x="445.30" y="272.20" width="12.50" height="1.40" rx="0.6" fill="#1a1a1a"/>
<rect x="445.30" y="278.20" width="12.50" height="1.60" rx="0.6" fill="#111"/>
<rect x="464.50" y="272.10" width="11.50" height="1.40" rx="0.6" fill="#1a1a1a"/>
<rect x="464.50" y="278.00" width="11.50" height="1.60" rx="0.6" fill="#111"/>
<rect x="483.70" y="271.60" width="13.50" height="1.40" rx="0.6" fill="#1a1a1a"/>
<rect x="483.70" y="277.30" width="13.50" height="1.60" rx="0.6" fill="#111"/>
</g>
<text x="415.00" y="304.80" font-size="6.8" text-anchor="middle" font-weight="bold" fill="#000" >1</text>
<text x="437.00" y="304.80" font-size="6.8" text-anchor="middle" font-weight="bold" fill="#000" >2</text>
<text x="455.40" y="304.80" font-size="6.8" text-anchor="middle" font-weight="bold" fill="#000" >3</text>
<text x="472.70" y="304.80" font-size="6.8" text-anchor="middle" font-weight="bold" fill="#000" >4</text>
<text x="491.90" y="304.80" font-size="6.8" text-anchor="middle" font-weight="bold" fill="#000" >5</text>
<line x1="501.20" y1="237.00" x2="503.90" y2="237.00" stroke="#000" stroke-width="0.9" />
<line x1="501.20" y1="252.60" x2="503.90" y2="252.60" stroke="#000" stroke-width="0.9" />
<line x1="501.20" y1="255.00" x2="503.90" y2="255.00" stroke="#000" stroke-width="0.9" />
<line x1="501.20" y1="272.00" x2="503.90" y2="272.00" stroke="#000" stroke-width="0.9" />
<line x1="501.20" y1="278.50" x2="503.90" y2="278.50" stroke="#000" stroke-width="0.9" />
<text x="506.60" y="239.10" font-size="7.0" text-anchor="start" font-weight="bold" fill="#000" >α'</text>
<text x="504.80" y="252.40" font-size="7.0" text-anchor="start" font-weight="bold" fill="#000" >β</text>
<text x="505.00" y="259.80" font-size="6.9" text-anchor="start" font-weight="bold" fill="#000" >α'68</text>
<text x="504.60" y="273.40" font-size="6.9" text-anchor="start" font-weight="bold" fill="#000" >α'43</text>
<text x="504.60" y="280.50" font-size="6.9" text-anchor="start" font-weight="bold" fill="#000" >α'41</text></svg>
</body></html>
